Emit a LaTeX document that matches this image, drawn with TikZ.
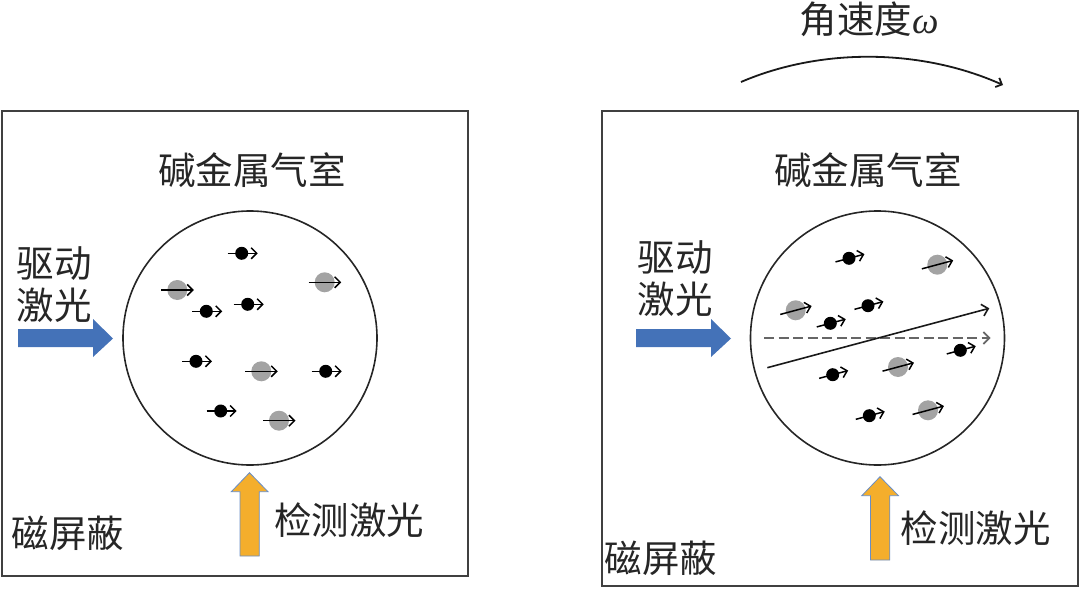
\documentclass[tikz,border=0pt]{standalone}
\usepackage{fontspec}
\setmainfont{Noto Sans CJK SC}
\newfontfamily\omegafont{Liberation Serif}
\usetikzlibrary{arrows.meta}
\definecolor{bluearrow}{HTML}{4472B8}
\definecolor{orangearrow}{HTML}{F4AE2C}
\definecolor{atomgray}{HTML}{A3A3A3}
\tikzset{
  x=1pt,y=-1pt,
  frame/.style={draw=black!75,line width=2pt},
  cell/.style={draw=black!85,line width=1.6pt},
  label/.style={font=\fontsize{37.5}{42}\selectfont,inner sep=0pt,text=black!85,align=center},
  blackatom/.style={circle,fill=black,minimum size=13pt,inner sep=0pt},
  grayatom/.style={circle,fill=atomgray,minimum size=20pt,inner sep=0pt},
  spin/.style={-{Straight Barb[length=5.5pt,width=11pt]},line width=1.5pt,black},
  pump/.style={draw=none,fill=bluearrow},
  probe/.style={draw=bluearrow!80,line width=0.8pt,fill=orangearrow}
}
\newcommand{\batom}[4]{\node[blackatom] (#1) at (#2,#3) {};
  \draw[spin] ([shift={({-14*cos(#4)},{14*sin(#4)})}]#1.center) -- ([shift={({16*cos(#4)},{-16*sin(#4)})}]#1.center);}
\newcommand{\gatom}[4]{\node[grayatom] (#1) at (#2,#3) {};
  \draw[spin] ([shift={({-16*cos(#4)},{16*sin(#4)})}]#1.center) -- ([shift={({16.5*cos(#4)},{-16.5*sin(#4)})}]#1.center);}
\newcommand{\pumparrow}[1]{\fill[pump,shift={(#1,0)}] (18,329) -- (93,329) -- (93,319) -- (113,338.5) -- (93,357) -- (93,347) -- (18,347) -- cycle;}
\newcommand{\probearrow}[2]{\draw[probe,shift={(#1,#2)}] (240,556) -- (240,491.7) -- (231.3,491.7) -- (249.5,472.7) -- (268,491.7) -- (259.3,491.7) -- (259.3,556) -- cycle;}
\begin{document}
\begin{tikzpicture}
\useasboundingbox (0,0) rectangle (1080,589);
\node[draw,frame,minimum width=466pt,minimum height=465pt,inner sep=0pt] (boxL) at (235,343.5) {};
\node[draw,frame,minimum width=476pt,minimum height=475pt,inner sep=0pt] (boxR) at (840,348.5) {};
\node[circle,cell,minimum size=254pt,inner sep=0pt] (cellL) at (250,338) {};
\node[circle,cell,minimum size=254pt,inner sep=0pt] (cellR) at (877.5,338) {};
\node[label] (t1) at (252,170) {碱金属气室};
\node[label] (t2) at (868,170) {碱金属气室};
\node[label] (t3) at (54,285) {驱动\\激光};
\node[label] (t4) at (675,279) {驱动\\激光};
\node[label] (t5) at (349,520) {检测激光};
\node[label] (t6) at (975.5,528) {检测激光};
\node[label] (t7) at (68,533) {磁屏蔽};
\node[label] (t8) at (661,558) {磁屏蔽};
\node[label] (t9) at (869,19) {角速度{\omegafont\itshape ω}};
\pumparrow{0}
\pumparrow{618}
\probearrow{0}{0}
\probearrow{630.5}{4}
\batom{a1}{241.7}{253.3}{0}\batom{a2}{247.7}{304.3}{0}\batom{a3}{206.3}{311.3}{0}
\batom{a4}{196}{361.3}{0}\batom{a5}{325.7}{371.3}{0}\batom{a6}{220.7}{411}{0}
\gatom{g1}{177.3}{290}{0}\gatom{g2}{324.7}{282.3}{0}\gatom{g3}{261.3}{371.3}{0}\gatom{g4}{279}{420.7}{0}
\batom{b1}{849}{258.3}{15}\batom{b2}{868}{305.7}{15}\batom{b3}{830.3}{323.3}{15}
\batom{b4}{832.7}{374.7}{15}\batom{b5}{960.3}{350.3}{15}\batom{b6}{869.3}{415.7}{15}
\gatom{h1}{937.3}{264.7}{15}\gatom{h2}{795.7}{310.3}{15}\gatom{h3}{898}{367}{15}\gatom{h4}{928}{410.3}{15}
\coordinate (ds) at (764,338); \coordinate (de) at (990.7,338);
\coordinate (ms) at (767.3,367.7); \coordinate (me) at (989.3,308.3);
\draw[-{Straight Barb[length=6pt,width=12pt]},line width=1.8pt,black!60,dash pattern=on 10pt off 4.5pt] (ds) -- (de);
\draw[-{Straight Barb[length=6pt,width=12pt]},line width=1.6pt,black!90] (ms) -- (me);
\coordinate (ws) at (741,82); \coordinate (we) at (1003,85);
\draw[-{Straight Barb[length=5pt,width=10pt]},line width=1.8pt,black!90] (ws) .. controls (820,48) and (920,48) .. (we);
\end{tikzpicture}
\end{document}
